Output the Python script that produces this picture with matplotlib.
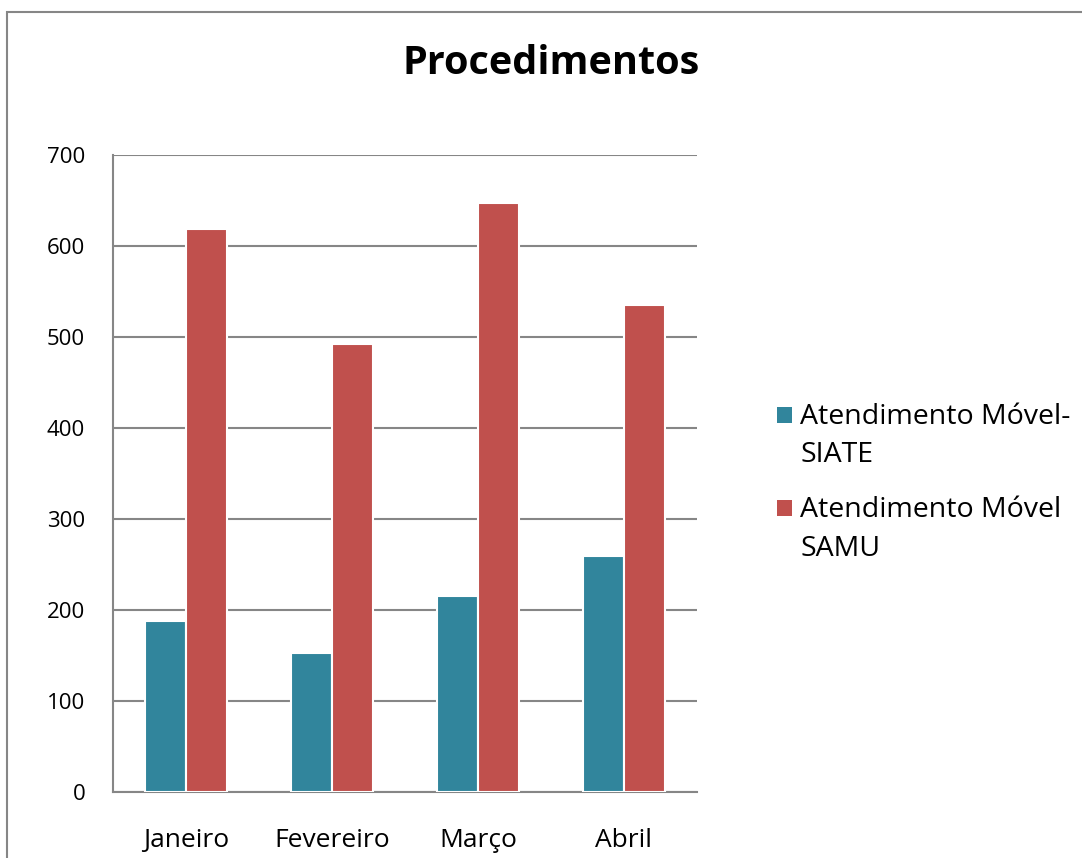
import matplotlib.pyplot as plt
import numpy as np
from matplotlib.patches import Rectangle

meses = ['Janeiro', 'Fevereiro', 'Março', 'Abril']
siate = [188, 153, 215, 259]
samu = [619, 492, 647, 535]
series = ['Atendimento Móvel-\nSIATE', 'Atendimento Móvel\nSAMU']
cores = ['#31859C', '#C0504D']

plt.rcParams['font.family'] = ['Open Sans', 'DejaVu Sans']

W, H = 1082, 858
fig = plt.figure(figsize=(W/100, H/100), dpi=100)
ax = fig.add_axes([113/W, 66/H, 584/W, 637/H])

# moldura do grafico
fig.patches.append(Rectangle((7/W, -0.1), 1.2, 1 - 12/H + 0.1, transform=fig.transFigure,
                             fill=False, edgecolor='#868686', linewidth=1.5))

x = np.arange(len(meses))
w = 0.28
ax.bar(x - w/2, siate, w, color=cores[0], edgecolor='white', linewidth=1.5, zorder=3)
ax.bar(x + w/2, samu, w, color=cores[1], edgecolor='white', linewidth=1.5, zorder=3)

ax.set_xlim(-0.5, 3.5)
ax.set_ylim(0, 700)
ax.set_yticks(range(0, 701, 100))
ax.set_xticks(x)
ax.set_xticklabels(meses)
ax.tick_params(axis='both', length=0)
ax.tick_params(axis='y', pad=20, labelsize=16)
ax.tick_params(axis='x', pad=26, labelsize=19)
ax.grid(axis='y', color='#868686', linewidth=1.5, zorder=0)
for s in ['top', 'right']:
    ax.spines[s].set_visible(False)
for s in ['left', 'bottom']:
    ax.spines[s].set_color('#868686')
    ax.spines[s].set_linewidth(1.5)

fig.text(551/W, 1 - 64/H, 'Procedimentos', ha='center', va='center', fontsize=28.5, fontweight='bold')

# legenda
for i, (nome, cor) in enumerate(zip(series, cores)):
    ytop = 407 + i*93
    fig.patches.append(Rectangle((777/W, 1 - (ytop + 16)/H), 15/W, 16/H, transform=fig.transFigure,
                                 facecolor=cor, edgecolor='none'))
    fig.text(800/W, 1 - (ytop - 4)/H, nome, ha='left', va='top', fontsize=20.5, linespacing=1.5)

fig.savefig('out.png', dpi=100)
